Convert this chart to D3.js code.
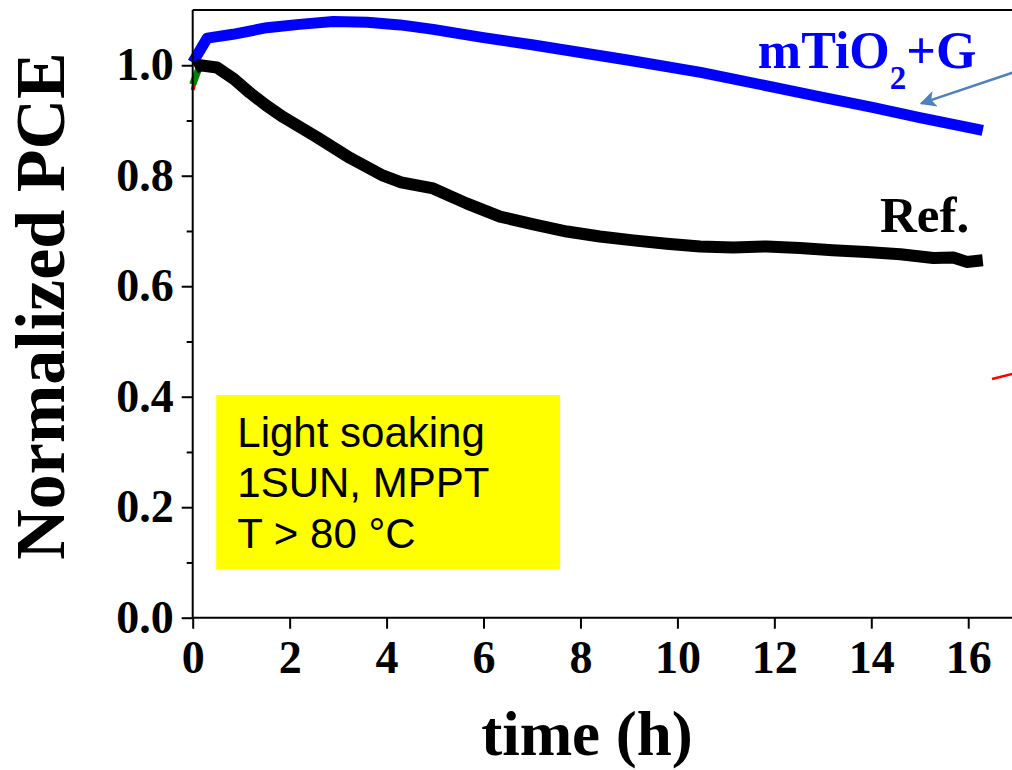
<!DOCTYPE html>
<html>
<head>
<meta charset="utf-8">
<script src="https://d3js.org/d3.v7.min.js"></script>
<style>
  body { margin: 0; background: #fff; }
  svg text { font-family: "Liberation Serif", "Times New Roman", serif; font-weight: bold; }
  .axis path, .axis line { stroke: #000; stroke-width: 2; }
  .axis text { font-size: 46px; fill: #000; }
  .note text { font-family: "Liberation Sans", Arial, sans-serif; font-weight: normal; }
</style>
</head>
<body>
<svg width="1012" height="770"></svg>
<script>

// ageing curves, hours vs normalized PCE
var blueTime = [0, 0.3, 0.83, 1.53, 2.2, 2.9, 3.6, 4.28, 4.96, 6, 7, 8, 9, 10.48, 12, 13, 14, 15, 16.3];
var blueValue = [1.005, 1.049, 1.056, 1.068, 1.074, 1.079, 1.078, 1.073, 1.065, 1.050, 1.037, 1.023, 1.009, 0.987, 0.960, 0.942, 0.924, 0.905, 0.882];

var refTime = [0.05, 0.15, 0.5, 0.85, 1.18, 1.52, 1.87, 2.56, 3.25, 3.93, 4.3, 4.96, 5.65, 6.34, 7.03, 7.72, 8.4, 9.09, 9.78, 10.47, 11.15, 11.84, 12.53, 13.2, 13.9, 14.6, 15.28, 15.69, 15.97, 16.3];
var refValue = [0.995, 1.0, 0.996, 0.975, 0.950, 0.927, 0.906, 0.870, 0.832, 0.800, 0.788, 0.777, 0.750, 0.726, 0.712, 0.699, 0.690, 0.683, 0.677, 0.672, 0.670, 0.672, 0.669, 0.665, 0.662, 0.658, 0.651, 0.652, 0.644, 0.647];

var greenTime = [0, 0.15];
var greenValue = [0.965, 1.0];
var redTime = [0, 0.1];
var redValue = [0.955, 0.99];

var xTicks = [0, 2, 4, 6, 8, 10, 12, 14, 16];
var yTicks = [0, 0.2, 0.4, 0.6, 0.8, 1.0];
var yMinor = [0.1, 0.3, 0.5, 0.7, 0.9];
var noteLines = ["Light soaking", "1SUN, MPPT", "T > 80 \u00B0C"];

var svg = d3.select("svg");

var x = d3.scaleLinear().domain([0, 17]).range([192.7, 1016.7]);
var y = d3.scaleLinear().domain([0, 1.1]).range([617.7, 10]);

function pts(t, v) { return t.map(function(d, i) { return [d, v[i]]; }); }

// yellow note box
var note = svg.append("g").attr("class", "note");
note.append("rect")
  .attr("x", x(0.485)).attr("y", y(0.403))
  .attr("width", x(7.58) - x(0.485)).attr("height", y(0.088) - y(0.403))
  .attr("fill", "#ffff00");
note.selectAll("text").data(noteLines).enter().append("text")
  .attr("x", x(0.92))
  .attr("y", function(d, i) { return y(0.309) + i * 50.5; })
  .attr("font-size", 42)
  .text(function(d) { return d; });

// frame top line
svg.append("line")
  .attr("x1", x(0)).attr("x2", 1012)
  .attr("y1", y(1.1)).attr("y2", y(1.1))
  .attr("stroke", "#000").attr("stroke-width", 2);

var line = d3.line()
  .x(function(d) { return x(d[0]); })
  .y(function(d) { return y(d[1]); });

var series = [
  { data: pts(redTime, redValue), color: "#ff0000", w: 4 },
  { data: pts(greenTime, greenValue), color: "#008000", w: 7 },
  { data: pts(blueTime, blueValue), color: "#0000ff", w: 11 },
  { data: pts(refTime, refValue), color: "#000000", w: 12 }
];

svg.selectAll(".curve").data(series).enter().append("path")
  .attr("class", "curve")
  .attr("d", function(d) { return line(d.data); })
  .attr("fill", "none")
  .attr("stroke", function(d) { return d.color; })
  .attr("stroke-width", function(d) { return d.w; })
  .attr("stroke-linejoin", "round");

// axes
svg.append("g")
  .attr("class", "axis")
  .attr("transform", "translate(0," + y(0) + ")")
  .call(d3.axisBottom(x).tickValues(xTicks).tickSize(11).tickPadding(12).tickFormat(d3.format("d")))
  .call(function(g) { g.select(".domain").attr("d", "M" + x(0) + ",0H1012"); });

svg.append("g")
  .attr("class", "axis")
  .attr("transform", "translate(" + x(0) + ",0)")
  .call(d3.axisLeft(y).tickValues(yTicks).tickSize(11).tickPadding(8).tickFormat(d3.format(".1f")))
  .call(function(g) { g.select(".domain").attr("d", "M0," + y(0) + "V" + y(1.1)); });

svg.append("g")
  .attr("class", "axis")
  .attr("transform", "translate(" + x(0) + ",0)")
  .call(d3.axisLeft(y).tickValues(yMinor).tickSize(6).tickFormat(""))
  .call(function(g) { g.select(".domain").remove(); });

// axis titles
svg.append("text")
  .attr("x", 587)
  .attr("y", 755)
  .attr("text-anchor", "middle")
  .attr("font-size", 63)
  .text("time (h)");

svg.append("text")
  .attr("transform", "translate(64,306) rotate(-90)")
  .attr("text-anchor", "middle")
  .attr("font-size", 70)
  .text("Normalized PCE");

// curve labels
var lbl = svg.append("text")
  .attr("x", x(11.66))
  .attr("y", y(0.995))
  .attr("font-size", 52)
  .attr("fill", "#0000ff");
lbl.append("tspan").text("mTiO");
lbl.append("tspan").attr("font-size", 33).attr("dy", 21).text("2");
lbl.append("tspan").attr("dy", -21).text("+G");

svg.append("text")
  .attr("x", x(14.18))
  .attr("y", y(0.698))
  .attr("font-size", 51)
  .text("Ref.");

// pointer arrows
svg.append("defs").append("marker")
  .attr("id", "head")
  .attr("viewBox", "0 0 10 10")
  .attr("refX", 9).attr("refY", 5)
  .attr("markerWidth", 9).attr("markerHeight", 6.5)
  .attr("markerUnits", "strokeWidth")
  .attr("orient", "auto")
  .append("path").attr("d", "M0,0L10,5L0,10L2.5,5Z").attr("fill", "#4f81bd");

svg.append("line")
  .attr("x1", x(17.2)).attr("y1", y(0.995))
  .attr("x2", x(15.03)).attr("y2", y(0.931))
  .attr("stroke", "#4f81bd").attr("stroke-width", 2.5)
  .attr("marker-end", "url(#head)");

svg.append("line")
  .attr("x1", x(16.49)).attr("y1", y(0.432))
  .attr("x2", x(17.3)).attr("y2", y(0.45))
  .attr("stroke", "#ff0000").attr("stroke-width", 2.5);

</script>
</body>
</html>
